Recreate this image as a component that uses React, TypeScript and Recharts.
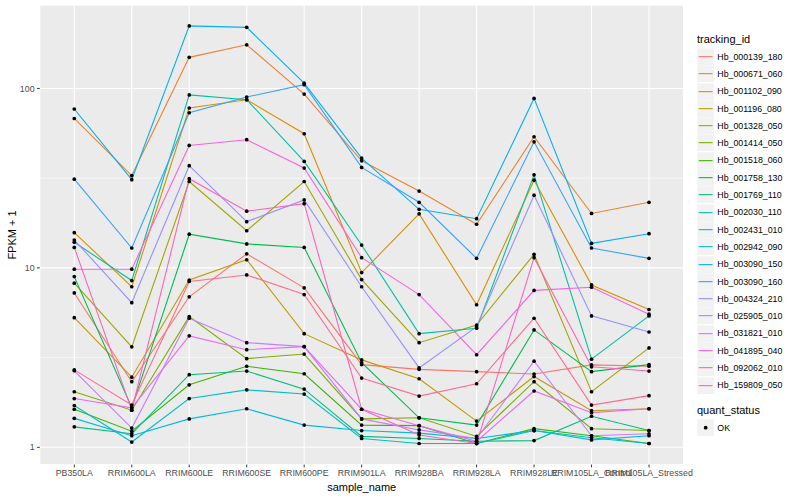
import React from "react";
import { LineChart, Line, XAxis, YAxis, CartesianGrid } from "recharts";

const sampleNames = [
  "PB350LA",
  "RRIM600LA",
  "RRIM600LE",
  "RRIM600SE",
  "RRIM600PE",
  "RRIM901LA",
  "RRIM928BA",
  "RRIM928LA",
  "RRIM928LE",
  "RRIM105LA_Control",
  "RRIM105LA_Stressed",
];

const trackingIds = [
  "Hb_000139_180",
  "Hb_000671_060",
  "Hb_001102_090",
  "Hb_001196_080",
  "Hb_001328_050",
  "Hb_001414_050",
  "Hb_001518_060",
  "Hb_001758_130",
  "Hb_001769_110",
  "Hb_002030_110",
  "Hb_002431_010",
  "Hb_002942_090",
  "Hb_003090_150",
  "Hb_003090_160",
  "Hb_004324_210",
  "Hb_025905_010",
  "Hb_031821_010",
  "Hb_041895_040",
  "Hb_092062_010",
  "Hb_159809_050",
];

// ggplot hue palette, 20 levels
const hueColors = [
  "#F8766D", "#EA8331", "#D89000", "#C09B00", "#A3A500",
  "#7CAE00", "#39B600", "#00BB4E", "#00BF7D", "#00C1A3",
  "#00BFC4", "#00BAE0", "#00B0F6", "#35A2FF", "#9590FF",
  "#C77CFF", "#E76BF3", "#FA62DB", "#FF62BC", "#FF6C91",
];

// FPKM + 1, one value per sample
const hb000139_180 = [7.25, 2.32, 6.9, 11.97, 7.74, 2.89, 2.72, 2.64, 2.56, 2.88, 2.83];
const hb000671_060 = [68, 32.7, 149, 175, 93, 39.5, 26.8, 17.5, 53.8, 20.1, 23.2];
const hb001102_090 = [15.7, 7.85, 77.8, 86.5, 55.9, 9.41, 20.0, 6.23, 30.8, 8.03, 5.86];
const hb001196_080 = [5.28, 2.46, 8.56, 11.1, 4.3, 3.07, 2.41, 1.4, 2.48, 1.6, 1.64];
const hb001328_050 = [8.22, 3.63, 30.3, 16.1, 30.3, 8.6, 3.83, 4.8, 11.9, 2.04, 3.58];
const hb001414_050 = [2.04, 1.61, 5.35, 3.12, 3.31, 1.44, 1.46, 1.15, 2.32, 1.27, 1.24];
const hb001518_060 = [1.63, 1.23, 2.23, 2.83, 2.57, 1.33, 1.32, 1.05, 1.27, 1.16, 1.05];
const hb001758_130 = [8.94, 1.66, 15.4, 13.6, 13.0, 2.96, 1.46, 1.33, 4.51, 2.64, 2.89];
const hb001769_110 = [1.3, 1.19, 2.54, 2.66, 2.11, 1.15, 1.12, 1.08, 1.09, 1.49, 1.24];
const hb002030_110 = [13.9, 8.5, 92, 86.5, 39.2, 13.4, 4.3, 4.61, 33.0, 3.1, 5.4];
const hb002431_010 = [1.71, 1.07, 1.87, 2.09, 1.98, 1.12, 1.05, 1.05, 1.24, 1.13, 1.05];
const hb002942_090 = [1.45, 1.16, 1.44, 1.64, 1.33, 1.24, 1.2, 1.12, 1.24, 1.1, 1.16];
const hb003090_150 = [76.8, 31, 223, 219, 107, 40.9, 21.2, 18.8, 88, 13.7, 15.5];
const hb003090_160 = [31.2, 12.9, 73.2, 89.5, 105, 36.3, 23.2, 11.3, 50.4, 12.9, 11.3];
const hb004324_210 = [14.3, 6.4, 37.1, 18.1, 23.9, 7.85, 2.77, 4.7, 25.4, 5.4, 4.39];
const hb025905_010 = [2.67, 1.28, 5.24, 3.83, 3.64, 1.44, 1.25, 1.12, 3.02, 1.16, 1.19];
const hb031821_010 = [1.87, 1.66, 4.18, 3.5, 3.64, 1.63, 1.32, 1.08, 2.06, 1.56, 1.64];
const hb041895_040 = [9.83, 9.83, 48.1, 51.8, 36, 11.4, 7.1, 3.28, 7.49, 7.8, 5.52];
const hb092062_010 = [13.0, 1.61, 31.4, 20.7, 22.8, 1.63, 1.17, 1.05, 11.4, 2.81, 2.66];
const hb159809_050 = [2.7, 1.72, 8.4, 9.13, 7.1, 2.43, 1.93, 2.26, 5.24, 1.72, 1.94];

const seriesValues = [
  hb000139_180, hb000671_060, hb001102_090, hb001196_080, hb001328_050,
  hb001414_050, hb001518_060, hb001758_130, hb001769_110, hb002030_110,
  hb002431_010, hb002942_090, hb003090_150, hb003090_160, hb004324_210,
  hb025905_010, hb031821_010, hb041895_040, hb092062_010, hb159809_050,
];

const quantStatus = ["OK"];

const xTicks = sampleNames.map((_, i) => i);
const yTicks = [1, 10, 100];
const yMinorTicks = [3.1623, 31.623];
const yDomain = [0.801, 291.7];

const rows = sampleNames.map((name, i) => {
  const row: Record<string, number | string> = { x: i, name };
  trackingIds.forEach((id, k) => {
    row[id] = seriesValues[k][i];
  });
  return row;
});

const FONT = "'Liberation Sans', Arial, Helvetica, sans-serif";
const KEY = 17.3;

function KeyBox({ color, point }: { color?: string; point?: boolean }) {
  return (
    <svg width={KEY} height={KEY} style={{ display: "block", marginRight: 3 }}>
      <rect x={0.3} y={0.3} width={KEY - 0.6} height={KEY - 0.6} fill="#F2F2F2" />
      {color && (
        <line x1={1.7} x2={KEY - 1.7} y1={KEY / 2} y2={KEY / 2} stroke={color} strokeWidth={1.1} />
      )}
      {point && <circle cx={KEY / 2} cy={KEY / 2} r={1.9} fill="#000" />}
    </svg>
  );
}

function LegendBlock() {
  return (
    <div style={{ position: "absolute", left: 697, top: 31, fontFamily: FONT }}>
      <div style={{ fontSize: 11, height: 17, lineHeight: "17px", color: "#000" }}>tracking_id</div>
      {trackingIds.map((id, k) => (
        <div key={id} style={{ display: "flex", alignItems: "center", height: KEY }}>
          <KeyBox color={hueColors[k]} />
          <span style={{ fontSize: 8.8, color: "#000" }}>{id}</span>
        </div>
      ))}
      <div style={{ fontSize: 11, height: 17, lineHeight: "17px", marginTop: 8, color: "#000" }}>
        quant_status
      </div>
      {quantStatus.map((s) => (
        <div key={s} style={{ display: "flex", alignItems: "center", height: KEY }}>
          <KeyBox point />
          <span style={{ fontSize: 8.8, color: "#000" }}>{s}</span>
        </div>
      ))}
    </div>
  );
}

export default function App() {
  return (
    <div style={{ position: "relative", width: 800, height: 500, background: "#fff", fontFamily: FONT }}>
      <style>{"body{margin:0}"}</style>
      <LineChart width={800} height={500} data={rows} margin={{ top: 5, right: 116.5, bottom: 0, left: 0 }}>
        <CartesianGrid fill="#EBEBEB" fillOpacity={1} stroke="#FFFFFF" strokeWidth={1.07} />
        <CartesianGrid yAxisId="minor" vertical={false} stroke="#FFFFFF" strokeWidth={0.55} />
        <XAxis
          dataKey="x"
          type="number"
          domain={[-0.6, 10.6]}
          ticks={xTicks}
          interval={0}
          allowDataOverflow
          tickFormatter={(v: number) => sampleNames[v]}
          height={35.4}
          axisLine={false}
          tickLine={{ stroke: "#333333" }}
          tickSize={2.75}
          tickMargin={2.5}
          tick={{ fill: "#4D4D4D", fontSize: 8.8 }}
        />
        <YAxis
          type="number"
          scale="log"
          domain={yDomain}
          ticks={yTicks}
          allowDataOverflow
          width={39.8}
          axisLine={false}
          tickLine={{ stroke: "#333333" }}
          tickSize={2.75}
          tickMargin={2.5}
          tick={{ fill: "#4D4D4D", fontSize: 8.8 }}
        />
        <YAxis
          yAxisId="minor"
          type="number"
          scale="log"
          domain={yDomain}
          ticks={yMinorTicks}
          allowDataOverflow
          hide
        />
        {trackingIds.map((id, k) => (
          <Line
            key={id}
            dataKey={id}
            type="linear"
            stroke={hueColors[k]}
            strokeWidth={1.1}
            dot={false}
            activeDot={false}
            isAnimationActive={false}
          />
        ))}
        {trackingIds.map((id) => (
          <Line
            key={id + "-pt"}
            dataKey={id}
            type="linear"
            stroke="none"
            dot={{ r: 1.85, fill: "#000000", stroke: "none" }}
            activeDot={false}
            legendType="none"
            isAnimationActive={false}
          />
        ))}
      </LineChart>
      <div
        style={{
          position: "absolute",
          left: 261.7,
          width: 200,
          top: 481,
          textAlign: "center",
          fontSize: 11,
          color: "#000",
        }}
      >
        sample_name
      </div>
      <div
        style={{
          position: "absolute",
          left: 12,
          top: 235,
          fontSize: 11,
          color: "#000",
          whiteSpace: "nowrap",
          transform: "translate(-50%, -50%) rotate(-90deg)",
        }}
      >
        FPKM + 1
      </div>
      <LegendBlock />
    </div>
  );
}
